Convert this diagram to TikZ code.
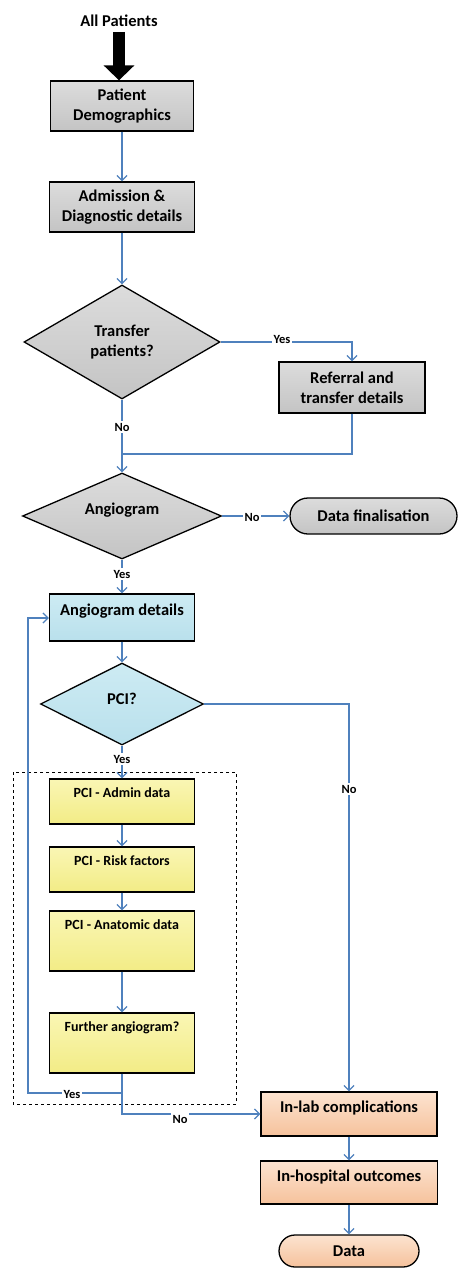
\documentclass[tikz,border=0pt]{standalone}
\usepackage{fontspec}
\setmainfont{Carlito}
\usetikzlibrary{shapes.geometric,shapes.misc,arrows.meta}
\definecolor{lnblue}{HTML}{4F81BD}
\definecolor{gtop}{HTML}{DCDCDC}
\definecolor{gbot}{HTML}{C4C4C4}
\definecolor{btop}{HTML}{CDEBF3}
\definecolor{bbot}{HTML}{B9E0EC}
\definecolor{ytop}{HTML}{FAF6B4}
\definecolor{ybot}{HTML}{F2EC86}
\definecolor{ptop}{HTML}{FCE3D0}
\definecolor{pbot}{HTML}{F6C29C}
\begin{document}
\begin{tikzpicture}[x=1pt,y=-1pt,
  bigfont/.style={font=\bfseries\fontsize{16.5}{20}\selectfont},
  smallfont/.style={font=\bfseries\fontsize{14}{17}\selectfont},
  lblfont/.style={font=\bfseries\fontsize{12.5}{14}\selectfont},
  shapebase/.style={draw=black, line width=1.3pt, inner sep=0pt, align=center},
  graybox/.style={shapebase, rectangle, top color=gtop, bottom color=gbot, bigfont},
  bluebox/.style={shapebase, rectangle, top color=btop, bottom color=bbot, bigfont},
  yellowbox/.style={shapebase, rectangle, top color=ytop, bottom color=ybot, smallfont},
  peachbox/.style={shapebase, rectangle, top color=ptop, bottom color=pbot, bigfont},
  graydia/.style={shapebase, diamond, top color=gtop, bottom color=gbot, bigfont},
  bluedia/.style={shapebase, diamond, top color=btop, bottom color=bbot, bigfont},
  grayterm/.style={shapebase, rounded rectangle, top color=gtop, bottom color=gbot, bigfont},
  peachterm/.style={shapebase, rounded rectangle, top color=ptop, bottom color=pbot, bigfont},
  flow/.style={draw=lnblue, line width=1.3pt, -{Straight Barb[length=5pt,width=10pt]}},
  plain/.style={draw=lnblue, line width=1.3pt},
  lbl/.style={fill=white, inner sep=1.5pt, lblfont},
  intext/.style={inner sep=0pt, bigfont},
  inyel/.style={inner sep=0pt, smallfont}
]
\useasboundingbox (0,0) rectangle (460,1268);

% top
\node[inner sep=0pt, bigfont] (allp) at (119,21) {All Patients};
\node[graybox, minimum width=143pt, minimum height=50pt] (demo) at (122,106) {Patient\\Demographics};
\draw[line width=12pt, -{Triangle[width=30pt,length=15pt]}] (allp.south |- 0,32) -- (allp.south |- demo.north);

\node[graybox, minimum width=145pt, minimum height=50pt] (adm) at (122,207) {Admission \&\\Diagnostic details};

\node[graydia, minimum width=196pt, minimum height=114pt] (trans) at (122,342) {Transfer\\patients?};
\node[graybox, minimum width=146pt, minimum height=51pt] (ref) at (352,387.5) {Referral and\\transfer details};

\node[graydia, minimum width=199pt, minimum height=86pt] (ang) at (122,516) {};
\node[intext] (angt) at (122,510) {Angiogram};
\node[grayterm, minimum width=167pt, minimum height=36pt] (fin) at (373.5,516) {Data finalisation};

\node[bluebox, minimum width=145pt, minimum height=47pt] (angdet) at (122,617.5) {};
\node[intext] (angdett) at (122,611) {Angiogram details};

\node[bluedia, minimum width=163pt, minimum height=82pt] (pci) at (122,704) {};
\node[intext] (pcit) at (122,699) {PCI?};

% dashed group
\draw[dashed, line width=0.8pt] (13,772) rectangle (236,1104);

\node[yellowbox, minimum width=145pt, minimum height=45pt] (admin) at (122,801.5) {};
\node[inyel] (admint) at (122,793) {PCI - Admin data};
\node[yellowbox, minimum width=145pt, minimum height=45pt] (risk) at (122,869.5) {};
\node[inyel] (riskt) at (122,861) {PCI - Risk factors};
\node[yellowbox, minimum width=145pt, minimum height=60pt] (anat) at (122,941) {};
\node[inyel] (anatt) at (122,925) {PCI - Anatomic data};
\node[yellowbox, minimum width=145pt, minimum height=60pt] (further) at (122,1043) {};
\node[inyel] (furthert) at (122,1028) {Further angiogram?};

\node[peachbox, minimum width=176pt, minimum height=44pt] (inlab) at (349,1114) {};
\node[intext] (inlabt) at (349,1108) {In-lab complications};
\node[peachbox, minimum width=177pt, minimum height=43pt] (inhosp) at (349,1182.5) {};
\node[intext] (inhospt) at (349,1177) {In-hospital outcomes};
\node[peachterm, minimum width=140pt, minimum height=32pt] (data) at (349,1251) {Data};

% connectors
\draw[flow] (demo.south) -- (adm.north);
\draw[flow] (adm.south) -- (trans.north);
\coordinate (tcorner) at (352,342);
\draw[flow] (trans.east) -- (tcorner) -- (ref.north);
\node[lbl] (yes1) at (282,339) {Yes};
\coordinate (rjoin) at (352,454);
\coordinate (mjoin) at (122,454);
\draw[plain] (ref.south) -- (rjoin) -- (mjoin);
\draw[flow] (trans.south) -- (ang.north);
\node[lbl] (no1) at (122,427) {No};

\draw[flow] (ang.east) -- (fin.west);
\node[lbl] (no2) at (252,517) {No};
\draw[flow] (ang.south) -- (angdet.north);
\node[lbl] (yes2) at (122,574) {Yes};

\draw[flow] (angdet.south) -- (pci.north);
\coordinate (pcorner) at (349,704);
\draw[flow] (pci.east) -- (pcorner) -- (inlab.north);
\node[lbl] (no3) at (349,789) {No};
\draw[flow] (pci.south) -- (admin.north);
\node[lbl] (yes3) at (122,759) {Yes};

\draw[flow] (admin.south) -- (risk.north);
\draw[flow] (risk.south) -- (anat.north);
\draw[flow] (anat.south) -- (further.north);

\coordinate (split) at (122,1093);
\coordinate (loopbl) at (28,1093);
\coordinate (looptl) at (28,618);
\draw[flow] (further.south) -- (split) -- (loopbl) -- (looptl) -- (angdet.west |- looptl);
\node[lbl] (yes4) at (72,1094) {Yes};
\coordinate (nocorner) at (122,1114);
\draw[flow] (split) -- (nocorner) -- (inlab.west);
\node[lbl] (no4) at (180,1119) {No};

\draw[flow] (inlab.south) -- (inhosp.north);
\draw[flow] (inhosp.south) -- (data.north);
\end{tikzpicture}
\end{document}
